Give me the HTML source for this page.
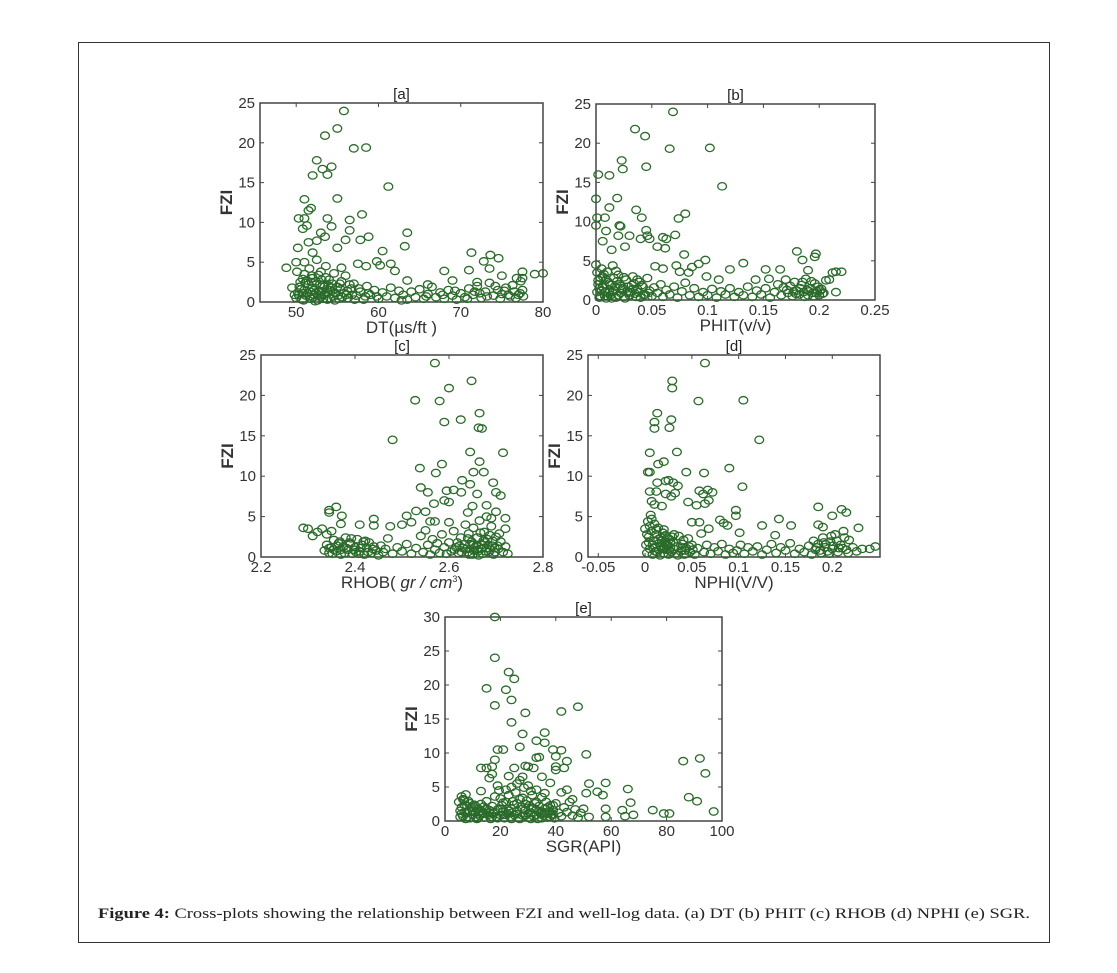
<!DOCTYPE html>
<html><head><meta charset="utf-8"><style>
html,body{margin:0;padding:0;background:#fff;}
svg{display:block;font-family:"Liberation Sans",Arial,sans-serif;}
</style></head><body>
<svg id="fig" width="1117" height="973" viewBox="0 0 1117 973">
<rect x="78.5" y="42.5" width="971" height="900" fill="none" stroke="#333" stroke-width="1"/>
<text x="98" y="918" font-family="Liberation Serif, serif" font-size="15" textLength="932" lengthAdjust="spacingAndGlyphs" fill="#222"><tspan font-weight="bold">Figure 4:</tspan> Cross-plots showing the relationship between FZI and well-log data. (a) DT (b) PHIT (c) RHOB (d) NPHI (e) SGR.</text>
</svg>
<script>
// ---- data (x,y pairs) ----
const dtFzi = [
[55.8,24],[55,21.8],[53.5,20.9],[57,19.3],[58.5,19.4],[52.5,17.8],[54.3,17],[53.2,16.7],[52,15.9],[53.8,16],[61.2,14.5],[55,13],[51,12.9],[51.8,11.8],[51.5,11.5],[50.3,10.5],[51,10.5],[53.8,10.5],[56.5,10.3],[58,11],[54.3,9.5],[51.3,9.6],[50.8,9.2],[56.5,9],[53,8.7],[53.5,8.2],[58.8,8.2],[63.5,8.7],[56,7.8],[57.8,7.8],[63.2,7],[51.5,7.5],[52.5,7.7],[50.2,6.8],[55,6.8],[52,6.2],[60.5,6.4],[71.3,6.2],[73.6,5.9],[74.6,5.5],[72.8,5.1],[59.8,5.1],[61.5,4.8],[62,3.9],[48.8,4.3],[50,5],[51,5],[60.2,4.6],[55.5,4.3],[57.5,4.8],[58.5,4.5],[68,3.9],[71,4],[73.5,4.2],[75,3.3],[77.5,3.8],[79,3.5],[80,3.6],[77.5,3.0],[63.5,2.7],[69,2.7],[66,2.2],[72,2.5],
[49.5,1.8],[50,0.5],[50.2,1.2],[50.5,2.5],[50.7,0.3],[51,1.5],[51,3.5],[51.2,0.8],[51.5,2.2],[51.6,4.2],[51.8,0.4],[52,1.8],[52,3],[52.2,0.9],[52.4,2.6],[52.5,5.3],[52.6,0.2],[52.8,1.4],[53,3.8],[53,0.6],[53.2,2.1],[53.5,1],[53.6,4.5],[53.8,0.3],[54,2.8],[54.2,1.5],[54.5,0.7],[54.6,3.6],[55,1.9],[55.2,0.4],[55.5,2.6],[55.8,1.1],[56,3.3],[56.3,0.5],[56.7,1.7],[57,2.3],[57.3,0.8],[57.8,1.3],[58.2,0.3],[58.6,2],[59,0.9],[59.5,1.5],[60,0.4],[60.5,1.2],[61,0.7],[61.5,1.8],[62,0.5],[62.5,1.4],[63,0.9],[63.5,0.3],[64,1.3],[64.5,0.6],[65,1.6],[65.5,0.4],[66,1],[66.5,1.9],[67,0.6],[67.5,1.2],[68,0.4],[68.5,1.5],[69,0.8],[69.5,0.3],[70,1.1],[70.5,0.6],[71,1.7],[71.5,0.9],[72,2],[72.5,0.5],[73,1.3],[73.5,2.4],[74,0.8],[74.5,1.5],[75,1],[75.5,1.8],[76,0.7],[76.5,1.3],[77,0.9],[77.3,2.6],[77.5,1.5],[76.8,3],[52.3,0.1],[51.4,1.1],[50.8,2.9],[53.7,1.6],
[50.3,0.9],[50.6,1.6],[50.9,0.2],[51.3,2.7],[51.7,1.3],[52.1,0.6],[52.4,1.2],[52.7,3.4],[52.9,2.2],[53.3,0.4],[53.4,1.9],[53.9,1.2],[54.1,0.5],[54.4,2.3],[54.8,1.1],[55.1,0.8],[55.4,1.6],[56.1,0.9],[56.5,2.2],[57.1,0.3],[49.8,0.9],[50.1,3.8],[51.9,2.5],[53.1,1.3],[54.7,0.2],[70.8,0.4],[71.7,1.3],[72.3,1.1],[73.2,0.7],[74.2,2],[74.8,0.4],[75.3,1.4],[75.8,0.9],[76.3,2.1],[76.7,0.5],[77.2,1.1],[77.6,0.7],[65.8,0.7],[67.8,0.9],[69.3,1.4],[62.8,0.2],[59.8,0.7],[58.8,1.1],
[50.4,1.9],[50.9,1.1],[51.1,2.4],[51.6,0.7],[51.9,3.3],[52.2,1.5],[52.5,2.3],[52.8,0.8],[53.1,2.8],[53.4,0.9],[53.6,3.1],[53.9,2.1],[54.3,1.8],[54.6,1.2],[55.3,2.3],[55.6,0.6],[56.2,1.4],[56.8,0.9],[57.6,1.7],[58.4,0.7]
];
const phitFzi = [
[0.069,24],[0.035,21.8],[0.044,20.9],[0.066,19.3],[0.102,19.4],[0.023,17.8],[0.045,17],[0.024,16.7],[0.002,16],[0.012,15.9],[0.113,14.5],[0.019,13],[0.0,12.9],[0.012,11.8],[0.036,11.5],[0.001,10.5],[0.008,10.5],[0.041,10.5],[0.074,10.4],[0.08,11],[0.021,9.5],[0.0,9.5],[0.045,8.9],[0.022,9.4],[0.009,8.8],[0.046,8.2],[0.071,8.3],[0.06,8],[0.063,7.8],[0.02,8.2],[0.03,8.2],[0.04,7.8],[0.048,7.8],[0.006,7.5],[0.026,6.8],[0.055,6.8],[0.062,6.6],[0.079,5.8],[0.014,6.4],[0.18,6.2],[0.197,5.9],[0.196,5.5],[0.185,5.1],[0.098,5.1],[0.132,4.7],[0.092,4.6],[0.086,4.2],[0.053,4.3],[0.06,4],[0.072,4.4],[0.12,3.9],[0.152,3.9],[0.165,3.9],[0.19,3.8],[0.215,3.6],[0.22,3.6],[0.212,3.5],[0.075,3.6],[0.083,3.5],[0.099,3.0],[0.11,2.6],[0.143,2.6],[0.155,2.7],[0.209,2.6],
[0.0,4.5],[0.001,3.5],[0.002,2.5],[0.003,1.5],[0.004,0.5],[0.005,4],[0.006,3],[0.007,2],[0.008,1],[0.009,0.2],[0.01,3.6],[0.011,2.3],[0.012,1.2],[0.013,0.6],[0.015,4.4],[0.016,2.8],[0.017,1.7],[0.018,0.3],[0.02,3.2],[0.021,2],[0.022,0.9],[0.024,1.5],[0.025,0.4],[0.027,2.6],[0.028,1.1],[0.03,0.6],[0.032,1.9],[0.033,3],[0.035,0.8],[0.037,1.4],[0.039,2.3],[0.04,0.3],[0.042,1.7],[0.044,0.7],[0.046,2.8],[0.048,1.2],[0.05,0.5],[0.052,1.6],[0.055,0.9],[0.058,2],[0.06,0.4],[0.063,1.3],[0.066,0.7],[0.07,1.7],[0.073,0.3],[0.077,1.1],[0.08,2.2],[0.084,0.6],[0.088,1.5],[0.092,0.4],[0.096,1],[0.1,0.6],[0.104,1.4],[0.108,0.3],[0.112,1.1],[0.116,0.7],[0.12,1.5],[0.124,0.4],[0.128,1],[0.132,0.6],[0.136,1.7],[0.14,0.4],[0.144,1.2],[0.148,0.7],[0.152,1.5],[0.156,0.3],[0.16,1],[0.163,2],[0.166,0.6],[0.168,1.6],[0.17,2.6],[0.172,0.9],[0.174,1.8],[0.176,0.5],[0.178,2.3],[0.18,1.2],[0.182,0.7],[0.184,1.9],[0.186,1],[0.188,2.7],[0.19,0.6],[0.192,1.5],[0.194,0.9],[0.196,2.1],[0.198,1.1],[0.2,0.6],[0.202,1.4],[0.204,0.9],[0.206,2.5],[0.215,1],
[0.001,1],[0.003,0.3],[0.004,2.8],[0.006,1.6],[0.008,0.5],[0.009,2.6],[0.011,0.9],[0.013,1.9],[0.014,0.2],[0.016,1.2],[0.019,2.4],[0.02,0.6],[0.023,1.3],[0.026,0.2],[0.029,1.7],[0.031,1],[0.034,2.1],[0.036,0.4],[0.038,1],[0.041,1.9],[0.043,0.6],[0.047,0.9],[0.171,1.3],[0.177,1.1],[0.183,1.5],[0.187,0.4],[0.191,1.1],[0.195,0.5],[0.199,1.7],[0.203,0.8],
[0.002,2],[0.005,1.2],[0.007,3.3],[0.01,0.5],[0.012,2.1],[0.015,1],[0.018,3.7],[0.022,1.8],[0.025,2.9],[0.029,0.9],[0.033,1.4],[0.037,2.6],[0.179,0.8],[0.185,2.3],[0.189,1.3],[0.193,2.4],[0.197,0.9],[0.201,1.2]
];
const rhobFzi = [
[2.57,24],[2.648,21.8],[2.6,20.9],[2.528,19.4],[2.58,19.3],[2.665,17.8],[2.625,17],[2.59,16.7],[2.663,16],[2.67,15.9],[2.48,14.5],[2.645,13],[2.715,12.9],[2.665,11.8],[2.585,11.5],[2.538,11],[2.572,10.4],[2.652,10.5],[2.674,10.5],[2.628,9.5],[2.645,9],[2.694,9.2],[2.54,8.6],[2.595,8.2],[2.61,8.3],[2.555,8],[2.626,8],[2.66,7.8],[2.7,8],[2.71,7.6],[2.59,7],[2.6,6.8],[2.568,6.6],[2.68,6.4],[2.65,6.3],[2.36,6.2],[2.345,5.8],[2.345,5.5],[2.372,5.1],[2.53,5.7],[2.55,5.6],[2.51,5.1],[2.52,4.3],[2.64,5.5],[2.7,5.6],[2.69,4.8],[2.72,4.8],[2.44,4.7],[2.41,4],[2.37,4.1],[2.44,3.9],[2.475,3.8],[2.5,4],[2.29,3.6],[2.3,3.5],[2.32,3.1],[2.33,3.5],[2.34,2.8],[2.31,2.6],[2.35,3.2],[2.57,4.4],[2.56,4.4],[2.6,4.3],[2.72,3.5],
[2.335,0.8],[2.34,1.5],[2.345,0.5],[2.35,1.2],[2.355,2.1],[2.36,0.7],[2.365,1.7],[2.37,0.3],[2.375,1.3],[2.38,2.4],[2.385,0.9],[2.39,1.6],[2.395,0.4],[2.4,1.2],[2.405,2.2],[2.41,0.7],[2.415,1.5],[2.42,0.3],[2.425,1.1],[2.43,1.8],[2.435,0.5],[2.44,1.3],[2.445,0.8],[2.45,0.2],[2.455,1.4],[2.46,0.6],[2.465,1],[2.47,2.3],[2.48,0.4],[2.49,1.2],[2.5,0.7],[2.51,1.6],[2.52,0.4],[2.53,1.1],[2.54,2.6],[2.545,0.6],[2.55,3.3],[2.555,1.5],[2.56,0.3],[2.565,2.2],[2.57,0.9],[2.575,1.7],[2.58,0.5],[2.585,2.8],[2.59,1.2],[2.595,0.4],[2.6,1.8],[2.605,0.7],[2.61,3.2],[2.615,1.2],[2.62,0.5],[2.625,2.4],[2.63,1.1],[2.635,4],[2.64,0.6],[2.642,2.9],[2.645,1.6],[2.65,0.3],[2.652,3.6],[2.655,1.2],[2.66,2.4],[2.662,0.7],[2.665,4.5],[2.67,1.5],[2.672,0.4],[2.675,3.1],[2.68,1.1],[2.682,2.2],[2.685,0.6],[2.69,3.8],[2.692,1.4],[2.695,0.3],[2.7,2.5],[2.705,1],[2.71,1.9],[2.715,0.6],[2.72,1.3],[2.725,0.4],
[2.345,1.1],[2.352,0.4],[2.362,1.4],[2.37,0.9],[2.378,0.5],[2.388,1.8],[2.398,0.9],[2.408,0.4],[2.418,1.9],[2.428,0.6],[2.438,1],[2.637,1],[2.643,0.3],[2.648,1.9],[2.653,0.8],[2.658,1.4],[2.663,0.2],[2.668,1],[2.673,2],[2.678,0.7],[2.683,1.5],[2.688,0.9],[2.693,2],[2.698,0.6],[2.703,1.4],[2.633,1.6],[2.627,0.6],[2.618,1.8],
[2.355,0.9],[2.368,1.9],[2.382,1.1],[2.392,2.3],[2.402,0.6],[2.412,1.1],[2.422,2],[2.64,2.3],[2.652,1.5],[2.66,0.9],[2.667,3],[2.677,1.8],[2.687,2.7],[2.697,1.1],[2.707,2.9],[2.612,0.9],[2.622,1.4],[2.68,5]
];
const nphiFzi = [
[0.064,24],[0.029,21.8],[0.029,20.9],[0.057,19.3],[0.105,19.4],[0.013,17.8],[0.028,17],[0.01,16.7],[0.026,16],[0.01,15.9],[0.122,14.5],[0.034,13],[0.005,12.9],[0.02,11.8],[0.014,11.5],[0.003,10.5],[0.005,10.5],[0.044,10.5],[0.063,10.4],[0.09,11],[0.025,9.5],[0.022,9.4],[0.013,9.2],[0.03,9.2],[0.035,8.8],[0.104,8.7],[0.058,8.2],[0.067,8.3],[0.005,8.1],[0.012,8.1],[0.022,7.8],[0.028,7.5],[0.032,7.9],[0.062,7.8],[0.072,8],[0.068,7],[0.064,6.6],[0.046,6.8],[0.055,6.4],[0.007,6.9],[0.01,6.5],[0.018,6.3],[0.185,6.2],[0.21,5.9],[0.215,5.5],[0.2,5.1],[0.097,5.8],[0.097,5.1],[0.143,4.7],[0.08,4.6],[0.084,4.2],[0.058,4.3],[0.05,4.3],[0.125,3.9],[0.156,3.9],[0.185,4],[0.19,3.7],[0.228,3.6],[0.068,3.5],[0.088,3.9],[0.101,3],[0.139,2.7],[0.246,1.3],[0.24,1.0],
[0.0,3.5],[0.001,1.5],[0.002,0.5],[0.003,4.4],[0.004,2.5],[0.005,1],[0.006,5.2],[0.007,3.2],[0.008,0.3],[0.009,2],[0.01,4.1],[0.011,1.2],[0.012,2.8],[0.013,0.6],[0.014,3.6],[0.015,1.7],[0.016,0.2],[0.017,2.4],[0.018,1],[0.019,3],[0.02,0.5],[0.021,1.9],[0.022,2.7],[0.023,0.9],[0.024,1.5],[0.025,0.3],[0.026,2.2],[0.027,1.2],[0.028,0.6],[0.03,1.8],[0.032,0.4],[0.034,1.3],[0.036,2.6],[0.038,0.7],[0.04,1.6],[0.042,0.3],[0.044,1.1],[0.046,2.3],[0.048,0.6],[0.05,1.5],[0.053,0.3],[0.056,1.1],[0.06,2.9],[0.063,0.6],[0.066,1.5],[0.07,0.4],[0.074,1.2],[0.078,0.7],[0.082,1.6],[0.086,0.3],[0.09,1],[0.094,0.5],[0.098,0.8],[0.102,1.5],[0.106,0.4],[0.11,1.2],[0.115,0.7],[0.12,1.3],[0.125,0.3],[0.13,0.9],[0.135,1.6],[0.14,0.5],[0.145,1.2],[0.15,0.8],[0.155,1.7],[0.16,0.4],[0.165,1],[0.17,0.6],[0.175,1.4],[0.178,0.3],[0.18,2],[0.182,0.9],[0.185,1.6],[0.188,0.5],[0.19,2.4],[0.192,1.2],[0.195,0.7],[0.198,1.9],[0.2,1],[0.203,2.8],[0.206,0.6],[0.209,1.5],[0.212,3.2],[0.215,0.9],[0.218,2.1],[0.222,1.2],[0.226,0.7],[0.232,1],
[0.002,2.8],[0.005,3.8],[0.008,1.5],[0.011,0.7],[0.014,2.2],[0.017,1.3],[0.02,3.4],[0.023,1.6],[0.026,0.8],[0.029,2.5],[0.031,1],[0.035,0.2],[0.039,1.1],[0.043,0.8],[0.047,1.3],[0.183,1.2],[0.187,0.8],[0.193,1.6],[0.197,0.4],[0.201,1.4],[0.205,2],[0.211,1.1],[0.217,0.5],
[0.004,1.8],[0.007,4.7],[0.009,1.1],[0.012,3.4],[0.015,0.9],[0.018,2],[0.021,1.2],[0.024,2.4],[0.027,1.8],[0.031,2.8],[0.041,2.1],[0.051,0.9],[0.191,1.8],[0.199,2.6],[0.207,1.1],[0.213,2.4]
];
const sgrFzi = [
[18,30],[18,24],[23,21.9],[25,20.9],[15,19.5],[22,19.3],[24,17.8],[18,17],[48,16.8],[42,16.1],[29,15.9],[24,14.5],[36,13],[28,12.8],[33,11.8],[36,11.5],[27,10.9],[19,10.5],[21,10.5],[39,10.5],[42,10.4],[40,9.5],[51,9.8],[92,9.2],[33,9.3],[34,9.4],[18,9],[44,8.8],[86,8.8],[17,8],[13,7.8],[15,7.8],[25,7.8],[30,8],[29,8.1],[40,8],[40,7.5],[43,7.8],[94,7],[32,7.8],[17,6.9],[23,6.6],[28,6.5],[35,6.5],[16,6.3],[52,5.5],[58,5.6],[38,5.6],[13,4.4],[19,5.2],[24,5],[66,4.7],[55,4.3],[51,4.1],[57,3.8],[88,3.5],[91,2.9],[67,2.7],[46,3.2],[44,4.6],[42,4.2],[97,1.4],[75,1.6],[79,1.1],[81,1.1],[64,1.6],[58,1.8],[65,0.7],[68,0.9],[58,0.6],[52,0.6],[50,1.8],
[5,2.8],[5.5,1.5],[6,3.6],[6.5,0.7],[7,2.4],[7.5,3.9],[8,1.2],[8.5,2.9],[9,0.4],[9.5,1.9],[10,0.9],[10.5,2.4],[11,1.3],[11.5,0.3],[12,1.8],[12.5,0.8],[13,2.5],[13.5,1.2],[14,0.5],[14.5,1.7],[15,2.9],[15.5,0.9],[16,1.6],[16.5,0.3],[17,2.2],[17.5,1.1],[18,3.6],[18.5,0.6],[19,1.7],[19.5,4.5],[20,0.9],[20.5,2.3],[21,1.4],[21.5,0.4],[22,2.8],[22.5,1.1],[23,3.8],[23.5,0.6],[24,1.8],[24.5,2.9],[25,0.9],[25.5,4.2],[26,1.5],[26.5,0.4],[27,3.2],[27.5,2.1],[28,0.8],[28.5,4.9],[29,1.6],[29.5,3],[30,0.5],[30.5,2.3],[31,1.2],[31.5,3.8],[32,0.7],[32.5,2.6],[33,1.6],[33.5,0.3],[34,2.2],[34.5,1.1],[35,3.5],[35.5,0.8],[36,1.8],[36.5,2.8],[37,0.5],[37.5,1.4],[38,2.3],[38.5,0.9],[39,1.6],[39.5,0.4],[40,2.6],[41,1.2],[42,0.7],[43,2],[44,1.3],[45,2.8],[46,0.8],[47,1.7],[48,0.5],[49,1.2],
[5.5,0.6],[6,2],[6.5,3.2],[7,1.3],[7.5,0.3],[8,2.2],[9,1.4],[10,2.1],[11,0.6],[12,1.1],[13,1.5],[14,2.1],[16,1.2],[17,0.6],[19,0.4],[20,1.8],[21,2.7],[22,0.9],[23,1.5],[24,0.3],[25,2.4],[26,1],[27,0.3],[28,1.8],[29,2.5],[30,1.1],[31,0.3],[32,1.9],[33,0.9],[34,1.5],[35,0.4],[36,1.1],[37,2],[38,0.6],[39,1],[26,5.5],[30,5.2],[27,6],[31,4.4],[33,4.6],[36,4.1],[20,3.3],[22,4.6],
[6,1.1],[7,3.1],[8,0.6],[9,2.6],[10,1.5],[11,2.2],[12,0.4],[14,1.1],[15,1.8],[18,1.3],[21,0.9],[24,1.2],[26,2.6],[28,3.4],[29,0.8],[31,1.9],[33,2.8],[35,1.4],[37,1.1],[39,2.3]
];
const yTicks25 = [0,5,10,15,20,25];
const yTicks30 = [0,5,10,15,20,25,30];
const dtTicks = [50,60,70,80];
const phitTicks = [0,0.05,0.1,0.15,0.2,0.25];
const rhobTicks = [2.2,2.4,2.6,2.8];
const nphiTicks = [-0.05,0,0.05,0.1,0.15,0.2];
const sgrTicks = [0,20,40,60,80,100];

const NS = 'http://www.w3.org/2000/svg';
const svg = document.getElementById('fig');
function mk(tag, attrs, parent){
  const e = document.createElementNS(NS, tag);
  for (const k in attrs) e.setAttribute(k, attrs[k]);
  (parent||svg).appendChild(e);
  return e;
}
function panel(id, box, xr, yr, xt, yt, pts, xlabelHTML){
  const g = mk('g', {});
  
  
  const sx = v => box.l + (v - xr[0]) / (xr[1] - xr[0]) * (box.r - box.l);
  const sy = v => box.b - (v - yr[0]) / (yr[1] - yr[0]) * (box.b - box.t);
  const frame = mk('rect', {x:box.l, y:box.t, width:box.r-box.l, height:box.b-box.t, fill:'#fff', stroke:'#444', 'stroke-width':1.5}, g);
  
  
  yt.forEach(v => {
    const y = sy(v);
    mk('line', {x1:box.l, x2:box.l+4, y1:y, y2:y, stroke:'#444'}, g);
    mk('line', {x1:box.r, x2:box.r-4, y1:y, y2:y, stroke:'#444'}, g);
    const t = mk('text', {x:box.l-5, y:y+5, 'text-anchor':'end', 'font-size':15, fill:'#333'}, g);
    t.textContent = String(v);
    
    
  });
  xt.forEach(v => {
    const x = sx(v);
    mk('line', {x1:x, x2:x, y1:box.b, y2:box.b-4, stroke:'#444'}, g);
    mk('line', {x1:x, x2:x, y1:box.t, y2:box.t+4, stroke:'#444'}, g);
    const t = mk('text', {x:x, y:box.b+15, 'text-anchor':'middle', 'font-size':15, fill:'#333'}, g);
    t.textContent = String(v);
    
    
  });
  const pg = mk('g', {fill:'none', stroke:'#2a6a2a', 'stroke-width':1.3}, g);
  
  
  pts.forEach(p => {
    const c = mk('ellipse', {cx:sx(p[0]), cy:sy(p[1]), rx:4.4, ry:3.7}, pg);
    
    
  });
  const title = mk('text', {x:(box.l+box.r)/2, y:box.t-4, 'text-anchor':'middle', 'font-size':15, fill:'#222'}, g);
  title.textContent = '[' + id + ']';
  
  
  const yl = mk('text', {x:0, y:0, transform:'translate('+(box.l-28)+','+((box.t+box.b)/2)+') rotate(-90)', 'text-anchor':'middle', 'font-size':17, 'font-weight':'bold', fill:'#333'}, g);
  yl.textContent = 'FZI';
  
  
  const xl = mk('text', {x:(box.l+box.r)/2, y:box.b+31, 'text-anchor':'middle', 'font-size':17, fill:'#333'}, g);
  xl.innerHTML = xlabelHTML;
  
  
}
panel('a', {l:260,r:543,t:103,b:302}, [45.6,80], [0,25], dtTicks, yTicks25, dtFzi, 'DT(\u00b5s/ft )');
panel('b', {l:596,r:875,t:104,b:300}, [0,0.25], [0,25], phitTicks, yTicks25, phitFzi, 'PHIT(v/v)');
panel('c', {l:261,r:543,t:355,b:557}, [2.2,2.8], [0,25], rhobTicks, yTicks25, rhobFzi, 'RHOB( <tspan font-style="italic">gr / cm</tspan><tspan font-size="9" dy="-6">3</tspan><tspan dy="6">)</tspan>');
panel('d', {l:588,r:880,t:355,b:557}, [-0.061,0.251], [0,25], nphiTicks, yTicks25, nphiFzi, 'NPHI(V/V)');
panel('e', {l:445,r:722,t:617,b:821}, [0,100], [0,30], sgrTicks, yTicks30, sgrFzi, 'SGR(API)');
</script>
</body></html>
